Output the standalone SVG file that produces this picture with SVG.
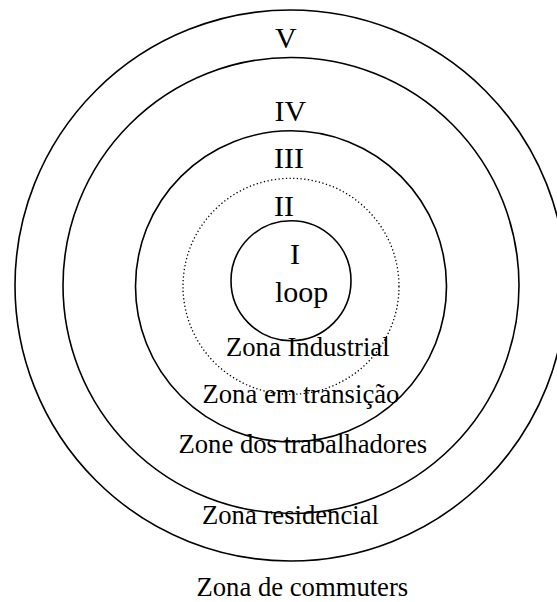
<svg xmlns="http://www.w3.org/2000/svg" width="557" height="602" viewBox="0 0 557 602">
  <style>
    .ring { fill: none; stroke: #000; stroke-width: 1.6; }
    .dotted { fill: none; stroke: #000; stroke-width: 1.3; stroke-dasharray: 1.3 2.4; }
    .num { font-family: "Liberation Serif", "Times New Roman", serif; font-size: 30px; fill: #000; }
    .lbl { font-family: "Liberation Serif", "Times New Roman", serif; font-size: 26.67px; fill: #000; }
  </style>
  <rect width="557" height="602" fill="#fff"/>
  <g id="zone-V">
    <circle class="ring" cx="290.5" cy="285.5" r="275.5"/>
    <text class="num" x="275" y="48">V</text>
    <text class="lbl" x="202" y="524">Zona residencial</text>
  </g>
  <g id="zone-IV">
    <circle class="ring" cx="291" cy="285.5" r="228"/>
    <text class="num" x="274.5" y="120.5">IV</text>
    <text class="lbl" x="178.5" y="453">Zone dos trabalhadores</text>
  </g>
  <g id="zone-III">
    <circle class="ring" cx="291" cy="286.3" r="155.5"/>
    <text class="num" x="274" y="168">III</text>
    <text class="lbl" x="202.5" y="403">Zona em transição</text>
  </g>
  <g id="zone-II">
    <circle class="dotted" cx="291" cy="286.3" r="108"/>
    <text class="num" x="274" y="216">II</text>
    <text class="lbl" x="226" y="356">Zona Industrial</text>
  </g>
  <g id="zone-I">
    <circle class="ring" cx="291" cy="280.7" r="60"/>
    <text class="num" x="290" y="264">I</text>
    <text class="num" x="275" y="302">loop</text>
  </g>
  <g id="commuters">
    <text class="lbl" x="196.5" y="596">Zona de commuters</text>
  </g>
  <g id="connectors"/>
</svg>
